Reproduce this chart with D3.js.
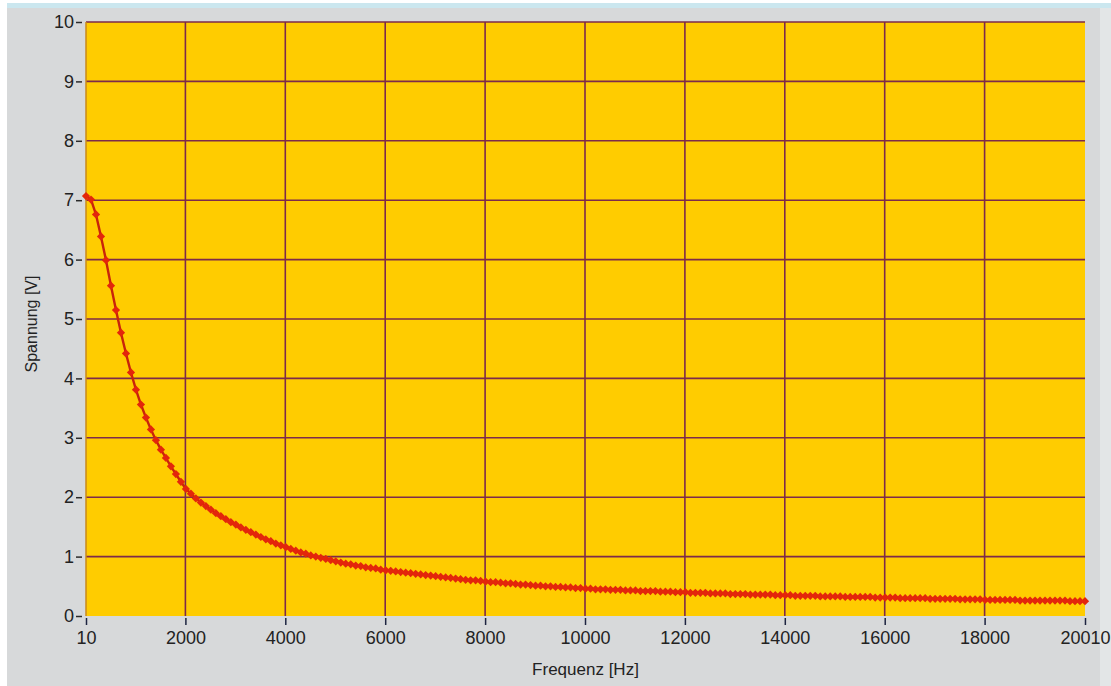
<!DOCTYPE html>
<html>
<head>
<meta charset="utf-8">
<script src="https://cdn.jsdelivr.net/npm/d3@7"></script>
<style>
  body { margin: 0; background: #ffffff; }
  svg { display: block; }
  text { font-family: "Liberation Sans", Arial, sans-serif; fill: #222222; }
</style>
</head>
<body>
<svg id="chart" width="1111" height="686"></svg>
<script>
// Frequency sweep: first sample and step between samples (Hz)
const freqStart = 10;
const freqStep = 100;

// Measured output voltage (V) for each frequency sample
const voltage = [
  7.07, 7.01, 6.76, 6.39, 5.99, 5.56, 5.15, 4.77, 4.42, 4.10,
  3.81, 3.56, 3.34, 3.14, 2.96, 2.80, 2.66, 2.52, 2.39, 2.26,
  2.14, 2.06, 1.98, 1.91, 1.85, 1.79, 1.73, 1.68, 1.63, 1.58,
  1.54, 1.49, 1.45, 1.41, 1.37, 1.33, 1.29, 1.26, 1.22, 1.19,
  1.16, 1.13, 1.10, 1.07, 1.05, 1.02, 1.00, 0.98, 0.96, 0.94,
  0.92, 0.90, 0.88, 0.87, 0.85, 0.84, 0.82, 0.81, 0.80, 0.78,
  0.77, 0.76, 0.75, 0.74, 0.73, 0.72, 0.71, 0.70, 0.69, 0.68,
  0.67, 0.66, 0.65, 0.64, 0.63, 0.62, 0.61, 0.60, 0.60, 0.59,
  0.58, 0.57, 0.57, 0.56, 0.55, 0.55, 0.54, 0.53, 0.53, 0.52,
  0.51, 0.51, 0.50, 0.50, 0.49, 0.49, 0.48, 0.48, 0.47, 0.47,
  0.46, 0.46, 0.45, 0.45, 0.45, 0.44, 0.44, 0.44, 0.43, 0.43,
  0.43, 0.42, 0.42, 0.42, 0.42, 0.41, 0.41, 0.41, 0.40, 0.40,
  0.40, 0.39, 0.39, 0.39, 0.39, 0.38, 0.38, 0.38, 0.38, 0.37,
  0.37, 0.37, 0.37, 0.36, 0.36, 0.36, 0.36, 0.36, 0.35, 0.35,
  0.35, 0.35, 0.34, 0.34, 0.34, 0.34, 0.34, 0.33, 0.33, 0.33,
  0.33, 0.33, 0.32, 0.32, 0.32, 0.32, 0.32, 0.32, 0.31, 0.31,
  0.31, 0.31, 0.31, 0.30, 0.30, 0.30, 0.30, 0.30, 0.30, 0.29,
  0.29, 0.29, 0.29, 0.29, 0.29, 0.28, 0.28, 0.28, 0.28, 0.28,
  0.27, 0.27, 0.27, 0.27, 0.27, 0.27, 0.27, 0.26, 0.26, 0.26,
  0.26, 0.26, 0.26, 0.26, 0.26, 0.26, 0.26, 0.25, 0.25, 0.25,
  0.25
];

// Axis ticks
const xTicks = [10, 2000, 4000, 6000, 8000, 10000, 12000, 14000, 16000, 18000, 20010];
const yTicks = [0, 1, 2, 3, 4, 5, 6, 7, 8, 9, 10];

const xTitle = "Frequenz [Hz]";
const yTitle = "Spannung [V]";

const points = voltage.map((v, i) => ({ f: freqStart + i * freqStep, v }));

const W = 1111, H = 686;
const plot = { left: 86, right: 1085, top: 22, bottom: 616 };

const svg = d3.select("#chart");

// Window panel
svg.append("rect").attr("x", 0).attr("y", 0).attr("width", W).attr("height", H).attr("fill", "#ffffff");
svg.append("rect").attr("x", 7).attr("y", 3).attr("width", W - 7).attr("height", H - 3).attr("fill", "#d7d9da");
svg.append("rect").attr("x", 7).attr("y", 3).attr("width", W - 7).attr("height", 5).attr("fill", "#cbe7ef");
svg.append("rect").attr("x", 1100).attr("y", 8).attr("width", W - 1100).attr("height", H - 8).attr("fill", "#e3e6e7");

const x = d3.scaleLinear().domain([xTicks[0], xTicks[xTicks.length - 1]]).range([plot.left, plot.right]);
const y = d3.scaleLinear().domain([yTicks[0], yTicks[yTicks.length - 1]]).range([plot.bottom, plot.top]);

// Plot background
svg.append("rect")
  .attr("x", plot.left).attr("y", plot.top)
  .attr("width", plot.right - plot.left).attr("height", plot.bottom - plot.top)
  .attr("fill", "#ffcc00");

// Grid
const gridColor = "#7d2a4a";
svg.append("g").selectAll("line").data(yTicks.slice(1)).join("line")
  .attr("x1", plot.left).attr("x2", plot.right)
  .attr("y1", d => y(d)).attr("y2", d => y(d))
  .attr("stroke", gridColor).attr("stroke-width", 1.6);
svg.append("g").selectAll("line").data(xTicks.slice(1, -1)).join("line")
  .attr("x1", d => x(d)).attr("x2", d => x(d))
  .attr("y1", plot.top).attr("y2", plot.bottom)
  .attr("stroke", gridColor).attr("stroke-width", 1.6);
// Left border of the plot
svg.append("line")
  .attr("x1", plot.left).attr("x2", plot.left)
  .attr("y1", plot.top).attr("y2", plot.bottom)
  .attr("stroke", "#c8891a").attr("stroke-width", 1.5);

// Y axis: tick dashes and labels
const yAxis = d3.axisLeft(y).tickValues(yTicks).tickSize(6).tickPadding(2).tickFormat(d3.format("d"));
const gy = svg.append("g").attr("transform", `translate(${plot.left - 4},0)`).call(yAxis);
gy.select(".domain").remove();
gy.selectAll(".tick line").attr("stroke", "#2a2a2a").attr("stroke-width", 1.5);
gy.selectAll(".tick text").attr("font-size", 18).attr("fill", "#222222")
  .attr("font-family", "'Liberation Sans', Arial, sans-serif");

// X axis: tick marks and labels
const xAxis = d3.axisBottom(x).tickValues(xTicks).tickSize(7).tickPadding(6).tickFormat(d3.format("d"));
const gx = svg.append("g").attr("transform", `translate(0,${plot.bottom + 2})`).call(xAxis);
gx.select(".domain").remove();
gx.selectAll(".tick line").attr("stroke", "#1c2440").attr("stroke-width", 1.5);
gx.selectAll(".tick text").attr("font-size", 18).attr("fill", "#222222")
  .attr("font-family", "'Liberation Sans', Arial, sans-serif");

// Axis titles
svg.append("text")
  .attr("x", (plot.left + plot.right) / 2).attr("y", 675)
  .attr("text-anchor", "middle").attr("font-size", 17)
  .text(xTitle);
svg.append("text")
  .attr("transform", `translate(37,324) rotate(-90)`)
  .attr("text-anchor", "middle").attr("font-size", 16)
  .text(yTitle);

// Measured curve
const line = d3.line().x(d => x(d.f)).y(d => y(d.v));
svg.append("path").datum(points)
  .attr("d", line)
  .attr("fill", "none")
  .attr("stroke", "#c8240a")
  .attr("stroke-width", 2.4);

const marker = d3.symbol().type(d3.symbolSquare).size(34);
svg.append("g").selectAll("path").data(points).join("path")
  .attr("transform", d => `translate(${x(d.f)},${y(d.v)}) rotate(45)`)
  .attr("d", marker)
  .attr("fill", "#e3260b");
</script>
</body>
</html>
